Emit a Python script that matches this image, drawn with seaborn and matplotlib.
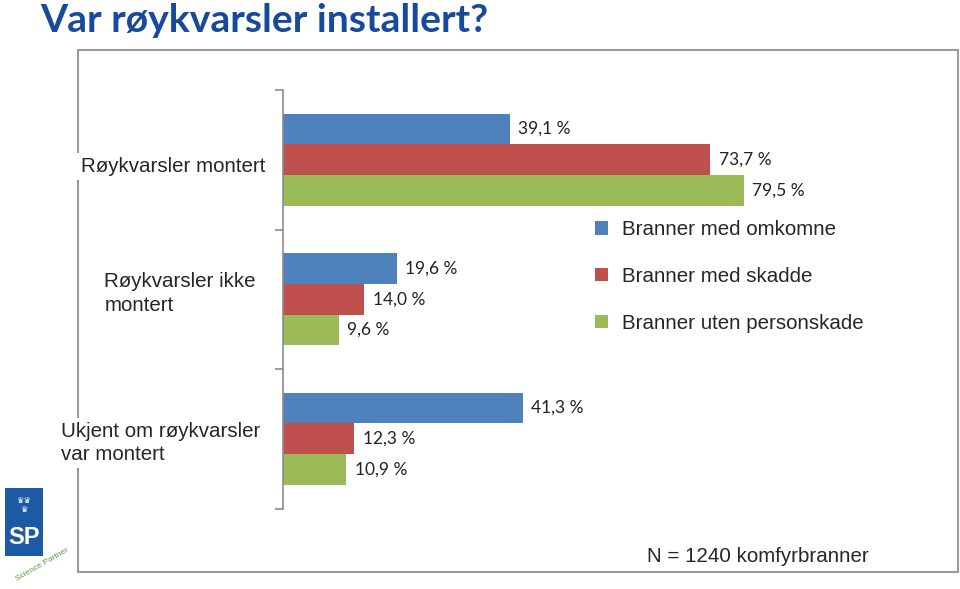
import matplotlib
matplotlib.use("Agg")
import matplotlib.pyplot as plt
import matplotlib.patches as mpatches
import matplotlib.transforms as mtransforms
import seaborn as sns
import pandas as pd

categories = ["Røykvarsler montert", "Røykvarsler ikke\nmontert", "Ukjent om røykvarsler\nvar montert"]
series = ["Branner med omkomne", "Branner med skadde", "Branner uten personskade"]
omkomne = [39.1, 19.6, 41.3]
skadde = [73.7, 14.0, 12.3]
uten = [79.5, 9.6, 10.9]
colors = ["#4F81BD", "#C0504D", "#9BBB59"]
title = "Var røykvarsler installert?"
note = "N = 1240 komfyrbranner"

rows = []
for s, vals in zip(series, [omkomne, skadde, uten]):
    for c, v in zip(categories, vals):
        rows.append({"kategori": c, "serie": s, "verdi": v})
df = pd.DataFrame(rows)

sns.set_style("white")
plt.rcParams["font.family"] = ["Liberation Sans", "DejaVu Sans"]
plt.rcParams["ytick.left"] = True

fig = plt.figure(figsize=(9.6, 5.89), dpi=100)
W, H = 960, 589
ax = fig.add_axes([283 / W, 1 - 508.5 / H, 580 / W, (508.5 - 90) / H])

sns.barplot(data=df, y="kategori", x="verdi", hue="serie", order=categories,
            hue_order=series, palette=colors, orient="h", width=0.66,
            saturation=1, linewidth=0, edgecolor="none", ax=ax, legend=True)

for cont in ax.containers:
    labels = [f"{v:.1f}".replace(".", ",") + " %" for v in cont.datavalues]
    ax.bar_label(cont, labels=labels, padding=6, fontsize=12.5,
                 family=["Lato", "DejaVu Sans"], color="#222222")

ax.set_xlim(0, 100)
ax.set_ylim(2.5, -0.5)
ax.set_xlabel("")
ax.set_ylabel("")
ax.xaxis.set_visible(False)
for sp in ["top", "right", "bottom"]:
    ax.spines[sp].set_visible(False)
ax.spines["left"].set_color("#8C8C8C")
ax.spines["left"].set_linewidth(1.2)
ax.set_yticks([0, 1, 2])
ax.set_yticklabels(categories, fontsize=14.8, multialignment="left", linespacing=1.3)
ax.tick_params(axis="y", which="major", length=0, pad=13)
ax.set_yticks([-0.5, 0.5, 1.5, 2.5], minor=True)
ax.tick_params(axis="y", which="minor", left=True, length=6, width=1.2, color="#8C8C8C")

# slight offsets (pixels; x positive = right, y positive = down) of the category labels
offsets_px = [(0, 5), (-9, -10), (-5, 0)]
for lbl, (dx, dy) in zip(ax.get_yticklabels(), offsets_px):
    lbl.set_transform(lbl.get_transform() +
                      mtransforms.ScaledTranslation(dx / 100, -dy / 100, fig.dpi_scale_trans))
    lbl.set_bbox(dict(facecolor="white", edgecolor="none", pad=3))

handles, labs = ax.get_legend_handles_labels()
ax.get_legend().remove()
fig.legend(handles, labs, loc="upper left", bbox_to_anchor=(587 / W, 1 - 212 / H),
           frameon=False, fontsize=14.8, handlelength=0.6, handleheight=0.6,
           handletextpad=0.7, labelspacing=1.35, borderaxespad=0)

fig.text(40 / W, 1 - 20 / H, title, fontsize=28.2, fontweight="bold",
         color="#174A9A", family=["Lato", "DejaVu Sans"], va="center", ha="left")
fig.text(647 / W, 1 - 556 / H, note, fontsize=14.8, va="center", ha="left")

fig.patches.append(mpatches.Rectangle((78 / W, 1 - 572 / H), 880 / W, 522 / H,
                                      transform=fig.transFigure, fill=False,
                                      edgecolor="#9A9A9A", linewidth=1.5, zorder=-1))

# simple logo
fig.patches.append(mpatches.Rectangle((5 / W, 1 - 556 / H), 38 / W, 68 / H,
                                      transform=fig.transFigure, facecolor="#1D5AA6",
                                      edgecolor="none"))
fig.text(24 / W, 1 - 537 / H, "SP", color="white", fontsize=17, ha="center",
         va="center", fontweight="bold")
fig.text(24 / W, 1 - 505 / H, "♛♛\n♛", color="white", fontsize=6, ha="center",
         va="center", family=["DejaVu Sans"], linespacing=0.9)
fig.text(42 / W, 1 - 565 / H, "Science Partner", color="#5A9A3A", fontsize=6,
         ha="center", va="center", rotation=30)

fig.savefig("out.png", dpi=100)
